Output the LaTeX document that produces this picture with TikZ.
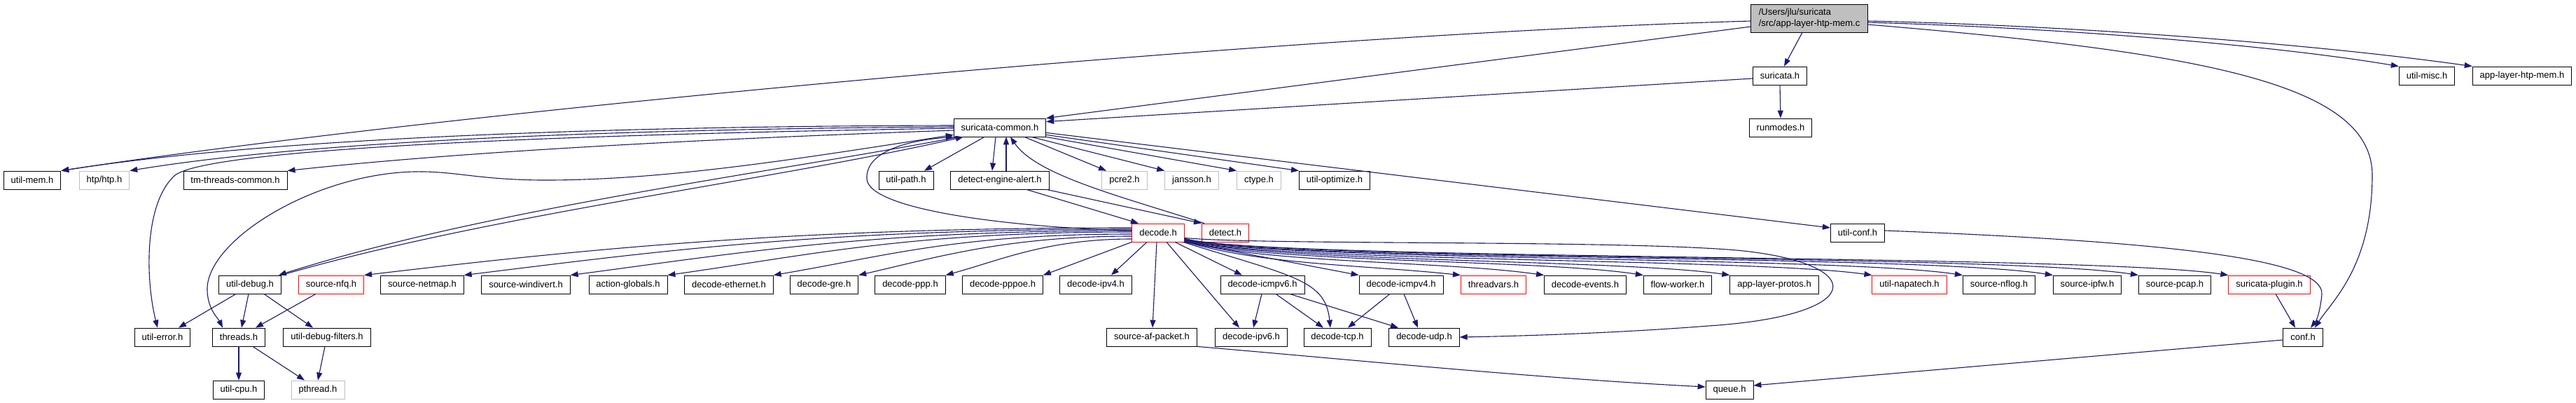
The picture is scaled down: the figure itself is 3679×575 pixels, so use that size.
\documentclass[tikz,border=0pt]{standalone}
\usepackage{fontspec}
\setmainfont{Liberation Sans}
\usetikzlibrary{arrows.meta,shadows}
\definecolor{edgeblue}{HTML}{191970}
\definecolor{mainfill}{HTML}{BFBFBF}
\definecolor{lightedge}{HTML}{BFBFBF}

\begin{document}
\begin{tikzpicture}[x=1pt, y=-1pt,
  box/.style={line width=0.8pt, fill=white, minimum height=26pt, inner xsep=10.5pt, inner ysep=2pt, font=\fontsize{13}{15.5}\selectfont},
  file/.style={box, draw=black, drop shadow={shadow xshift=0.6pt, shadow yshift=-1.2pt, opacity=1, fill=black!45}},
  missing/.style={box, draw=lightedge, drop shadow={shadow xshift=0.6pt, shadow yshift=-1.2pt, opacity=1, fill=black!12}},
  truncated/.style={box, draw=red, drop shadow={shadow xshift=0.6pt, shadow yshift=-1.2pt, opacity=1, fill=red!55}},
  inc/.style={draw=edgeblue, line width=1.1pt, -{Triangle[length=11pt,width=8pt]}},
  incboth/.style={draw=edgeblue, line width=1.1pt, {Triangle[length=11pt,width=8pt]}-{Triangle[length=11pt,width=8pt]}}]
\path[use as bounding box, fill=white] (0,0) rectangle (3679,575);

\node[file, fill=mainfill, align=left, minimum height=40pt, inner xsep=11pt] (main) at (2584,26) {/Users/jlu/suricata\\/src/app-layer-htp-mem.c};
\node[file] (suricata) at (2542,108) {suricata.h};
\node[file] (runmodes) at (2543,182) {runmodes.h};
\node[file] (utilmisc) at (3466,108) {util-misc.h};
\node[file] (htpmem) at (3602,108) {app-layer-htp-mem.h};
\node[file] (common) at (1428,182) {suricata-common.h};

\node[file] (utilmem) at (46,257) {util-mem.h};
\node[missing] (htp) at (149,257) {htp/htp.h};
\node[file] (tmthreads) at (336,257) {tm-threads-common.h};
\node[file] (utilpath) at (1294,257) {util-path.h};
\node[file] (alert) at (1428,257) {detect-engine-alert.h};
\node[missing] (pcre) at (1606,257) {pcre2.h};
\node[missing] (jansson) at (1702,257) {jansson.h};
\node[missing] (ctype) at (1798,257) {ctype.h};
\node[file] (optimize) at (1906,257) {util-optimize.h};

\node[truncated] (decode) at (1654,332) {decode.h};
\node[truncated] (detect) at (1750,332) {detect.h};
\node[file] (utilconf) at (2653,332) {util-conf.h};

\node[file] (utildebug) at (357,406) {util-debug.h};
\node[truncated] (nfq) at (473,406) {source-nfq.h};
\node[file] (netmap) at (603,406) {source-netmap.h};
\node[file] (windivert) at (751,406) {source-windivert.h};
\node[file] (actionglobals) at (897,406) {action-globals.h};
\node[file] (ethernet) at (1041,406) {decode-ethernet.h};
\node[file] (gre) at (1177,406) {decode-gre.h};
\node[file] (ppp) at (1300,406) {decode-ppp.h};
\node[file] (pppoe) at (1432,406) {decode-pppoe.h};
\node[file] (ipv4) at (1565,406) {decode-ipv4.h};
\node[file] (icmp6) at (1803,406) {decode-icmpv6.h};
\node[file] (icmp4) at (2001,406) {decode-icmpv4.h};
\node[truncated] (threadvars) at (2133,406) {threadvars.h};
\node[file] (events) at (2264,406) {decode-events.h};
\node[file] (flowworker) at (2396,406) {flow-worker.h};
\node[file] (protos) at (2534,406) {app-layer-protos.h};
\node[truncated] (napatech) at (2727,406) {util-napatech.h};
\node[file] (nflog) at (2855,406) {source-nflog.h};
\node[file] (ipfw) at (2981,406) {source-ipfw.h};
\node[file] (pcap) at (3106,406) {source-pcap.h};
\node[truncated] (plugin) at (3241,406) {suricata-plugin.h};

\node[file] (utilerror) at (232,481) {util-error.h};
\node[file] (threads) at (341,481) {threads.h};
\node[file] (filters) at (467,481) {util-debug-filters.h};
\node[file] (afpacket) at (1645,481) {source-af-packet.h};
\node[file] (ipv6) at (1787,481) {decode-ipv6.h};
\node[file] (tcp) at (1910,481) {decode-tcp.h};
\node[file] (udp) at (2034,481) {decode-udp.h};
\node[file] (conf) at (3289,481) {conf.h};

\node[file] (utilcpu) at (341,556) {util-cpu.h};
\node[missing] (pthread) at (454,556) {pthread.h};
\node[file] (queue) at (2470,556) {queue.h};

\draw[inc] ([yshift=-4pt]main.west) .. controls (1800,50) and (600,165) .. (utilmem.north east);
\draw[inc] ([yshift=-12pt]main.west) -- (common.north east);
\draw[inc] ([xshift=-10pt]main.south) -- ([xshift=6pt]suricata.north);
\draw[inc] ([yshift=-6pt]main.east) .. controls (2950,40) and (3250,65) .. (utilmisc.north west);
\draw[inc] ([yshift=-4pt]main.east) .. controls (2950,36) and (3300,62) .. (htpmem.north west);
\draw[inc] ([yshift=-9pt]main.east) .. controls (3150,75) and (3388,120) .. (3388,250) .. controls (3388,380) and (3330,430) .. ([xshift=17pt]conf.north);
\draw[inc] (suricata.south) -- (runmodes.north);
\draw[inc] ([yshift=-4pt]suricata.west) -- ([yshift=-5pt]common.north east);

\draw[inc] ([yshift=3pt]common.west) .. controls (900,180) and (400,195) .. (utilmem.north east);
\draw[inc] ([yshift=1pt]common.west) .. controls (900,184) and (450,200) .. (htp.north east);
\draw[inc] ([yshift=-4pt]common.west) .. controls (1100,195) and (700,212) .. (tmthreads.north east);
\draw[inc] ([yshift=-1pt]common.west) .. controls (800,192) and (300,212) .. (250,250) .. controls (205,290) and (208,400) .. ([xshift=-7pt]utilerror.north);
\draw[incboth] ([yshift=3pt]common.south west) .. controls (1150,225) and (950,258) .. (771,257) .. controls (680,256) and (650,244) .. (592,245) .. controls (450,248) and (300,340) .. (296,410) .. controls (295,440) and (312,455) .. ([xshift=-23pt]threads.north);
\draw[inc] ([xshift=8pt]common.south west) .. controls (1100,247) and (700,297) .. ([xshift=-4pt]utildebug.north east);
\draw[inc] (utildebug.north east) .. controls (700,306) and (1100,258) .. ([xshift=14pt]common.south west);
\draw[inc] ([yshift=3pt]decode.west) .. controls (1450,325) and (1240,300) .. (1238,255) .. controls (1236,215) and (1300,200) .. (common.south west);
\draw[inc] ([xshift=-22pt]common.south) -- ([xshift=26pt]utilpath.north);
\draw[inc] ([xshift=-6pt]common.south) -- ([xshift=-11pt]alert.north);
\draw[inc] ([xshift=9pt]alert.north) -- ([xshift=9pt]common.south);
\draw[inc] ([xshift=4pt]detect.north west) .. controls (1600,280) and (1480,250) .. ([xshift=15pt]common.south);
\draw[inc] ([xshift=35pt]common.south) -- ([xshift=-26pt]pcre.north);
\draw[inc] ([xshift=45pt]common.south) -- (jansson.north west);
\draw[inc] (common.south east) -- (ctype.north west);
\draw[inc] ([yshift=3pt]common.south east) -- (optimize.north west);
\draw[inc] ([yshift=6pt]common.south east) -- ([yshift=7pt]utilconf.west);
\draw[inc] ([xshift=38pt]alert.south) -- ([xshift=-28pt]decode.north);
\draw[inc] ([xshift=-4pt]alert.south east) -- (detect.north west);

\draw[inc] ([yshift=7pt]decode.west) .. controls +(-500,0) and +(300,-35) .. (nfq.north east);
\draw[inc] ([yshift=5pt]decode.west) .. controls +(-450,0) and +(270,-33) .. (netmap.north east);
\draw[inc] ([yshift=3pt]decode.west) .. controls +(-380,0) and +(230,-30) .. (windivert.north east);
\draw[inc] ([yshift=1pt]decode.west) .. controls +(-320,0) and +(200,-28) .. (actionglobals.north east);
\draw[inc] ([yshift=-2pt]decode.west) .. controls +(-250,0) and +(160,-27) .. (ethernet.north east);
\draw[inc] ([yshift=-5pt]decode.west) .. controls +(-180,0) and +(110,-25) .. (gre.north east);
\draw[inc] ([yshift=-9pt]decode.west) .. controls +(-120,0) and +(80,-22) .. (ppp.north east);
\draw[inc] (decode.south west) -- (pppoe.north east);
\draw[inc] ([xshift=-16pt]decode.south) -- ([xshift=22pt]ipv4.north);
\draw[inc] ([xshift=-2pt]decode.south) -- ([xshift=1pt]afpacket.north);
\draw[inc] ([xshift=12pt]decode.south) -- ([xshift=-17pt]ipv6.north);
\draw[inc] ([xshift=24pt]decode.south) -- ([xshift=-29pt]icmp6.north);
\draw[inc] ([xshift=-2pt]decode.south east) .. controls (1850,395) and (1893,400) .. ([xshift=-10pt]tcp.north);
\draw[inc] (decode.south east) -- (icmp4.north west);
\draw[inc] ([yshift=1pt]decode.south east) .. controls (1800,378) and (1950,378) .. (threadvars.north west);
\draw[inc] ([yshift=2pt]decode.south east) .. controls (1800,376) and (2060,372) .. (events.north west);
\draw[inc] ([yshift=2pt]decode.south east) .. controls (1800,375) and (2200,370) .. (flowworker.north west);
\draw[inc] ([yshift=3pt]decode.south east) .. controls (1800,374) and (2320,370) .. (protos.north west);
\draw[inc] ([yshift=3pt]decode.south east) .. controls (1800,374) and (2500,368) .. (napatech.north west);
\draw[inc] ([yshift=4pt]decode.south east) .. controls (1800,373) and (2620,365) .. (nflog.north west);
\draw[inc] ([yshift=4pt]decode.south east) .. controls (1800,373) and (2740,362) .. (ipfw.north west);
\draw[inc] ([yshift=5pt]decode.south east) .. controls (1800,372) and (2860,362) .. (pcap.north west);
\draw[inc] ([yshift=5pt]decode.south east) .. controls (1800,372) and (2980,362) .. (plugin.north west);
\draw[inc] ([yshift=6pt]decode.south east) .. controls (1800,350) and (2300,342) .. (2480,357) .. controls (2670,375) and (2670,450) .. (2440,465) .. controls (2300,476) and (2150,480) .. (udp.east);

\draw[inc] ([xshift=-1pt]icmp6.south) -- ([xshift=3pt]ipv6.north);
\draw[inc] ([xshift=19pt]icmp6.south) -- ([xshift=-20pt]tcp.north);
\draw[inc] ([xshift=39pt]icmp6.south) -- ([xshift=-37pt]udp.north);
\draw[inc] ([xshift=-16pt]icmp4.south) -- ([xshift=15pt]tcp.north);
\draw[inc] ([xshift=4pt]icmp4.south) -- ([xshift=-9pt]udp.north);

\draw[inc] ([xshift=-20pt]utildebug.south) -- ([xshift=23pt]utilerror.north);
\draw[inc] ([xshift=-2pt]utildebug.south) -- ([xshift=4pt]threads.north);
\draw[inc] ([xshift=20pt]utildebug.south) -- ([xshift=-20pt]filters.north);
\draw[inc] ([xshift=-22pt]nfq.south) -- ([xshift=24pt]threads.north);
\draw[inc] (threads.south) -- (utilcpu.north);
\draw[inc] ([xshift=20pt]threads.south) -- ([xshift=-19pt]pthread.north);
\draw[inc] ([xshift=-3pt]filters.south) -- (pthread.north);

\draw[inc] (afpacket.south east) .. controls (1950,515) and (2200,540) .. ([yshift=4pt]queue.west);
\draw[inc] ([yshift=-4pt]conf.west) -- ([yshift=6pt]queue.east);
\draw[inc] ([yshift=3pt]utilconf.east) .. controls (3100,345) and (3320,370) .. (3316,420) .. controls (3314,440) and (3310,455) .. ([xshift=11pt]conf.north);
\draw[inc] ([xshift=9pt]plugin.south) -- ([xshift=-11pt]conf.north);
\end{tikzpicture}
\end{document}
